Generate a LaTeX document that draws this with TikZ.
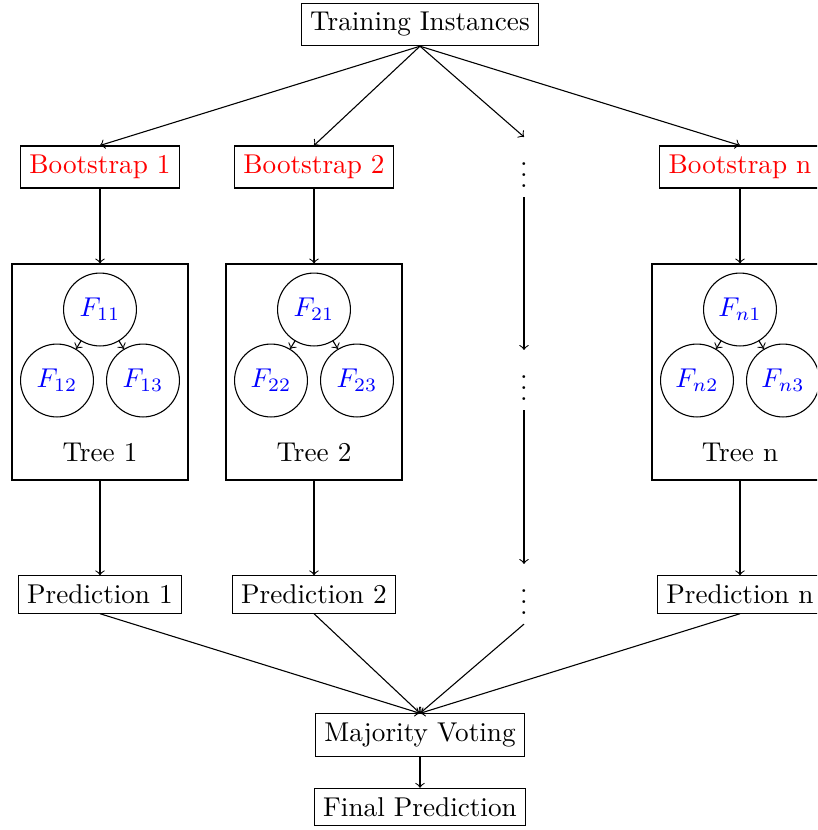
\documentclass[tikz,border=0pt]{standalone}
\begin{document}
\begin{tikzpicture}[x=0.3676pt,y=-0.3676pt,
  box/.style={draw,rectangle},
  bootbox/.style={draw,rectangle,text=red},
  treebox/.style={draw,rectangle,minimum width=64.7pt,minimum height=79.4pt},
  fnode/.style={draw,circle,minimum size=26.8pt,inner sep=0pt,text=blue},
  arr/.style={->}]
\useasboundingbox (0,0) rectangle (817,830);
\path[clip] (0,0) rectangle (817,830);

% source and bootstrap samples
\node[box] (train) at (420,24.5) {Training Instances};
\node[bootbox] (b1) at (100,167) {Bootstrap 1};
\node[bootbox] (b2) at (314,167) {Bootstrap 2};
\node (v1) at (524,167) {$\vdots$};
\node[bootbox] (bn) at (740,167) {Bootstrap n};

% trees
\node[treebox] (t1) at (100,372) {};
\node[treebox] (t2) at (314,372) {};
\node (v2) at (524,380) {$\vdots$};
\node[treebox] (tn) at (740,372) {};

\foreach \c/\k/\x in {1/1/100, 2/2/314, n/n/740}{
  \node[fnode] (f\k1) at (\x,309.5) {$F_{\c1}$};
  \node[fnode] (f\k2) at (\x-43,380.5) {$F_{\c2}$};
  \node[fnode] (f\k3) at (\x+43,380.5) {$F_{\c3}$};
  \node (lab\k) at (\x,452) {Tree \c};
  \draw[arr] (f\k1) -- (f\k2);
  \draw[arr] (f\k1) -- (f\k3);
}

% predictions
\node[box] (p1) at (100,594.5) {Prediction 1};
\node[box] (p2) at (314,594.5) {Prediction 2};
\node (v3) at (524,594) {$\vdots$};
\node[box] (pn) at (740,594.5) {Prediction n};

% aggregation
\node[box] (vote) at (420,735) {Majority Voting};
\node[box] (final) at (420,807) {Final Prediction};

% connectors
\foreach \n in {b1,b2,v1,bn}
  \draw[arr] (train.south) -- (\n.north);
\draw[arr] (b1) -- (t1);
\draw[arr] (b2) -- (t2);
\draw[arr] (v1) -- (v2);
\draw[arr] (bn) -- (tn);
\draw[arr] (t1) -- (p1);
\draw[arr] (t2) -- (p2);
\draw[arr] (v2) -- (v3);
\draw[arr] (tn) -- (pn);
\foreach \n in {p1,p2,pn}
  \draw[arr] (\n.south) -- (vote.north);
\draw[arr] (v3.south) -- (vote.north);
\draw[arr] (vote) -- (final);
\end{tikzpicture}
\end{document}
